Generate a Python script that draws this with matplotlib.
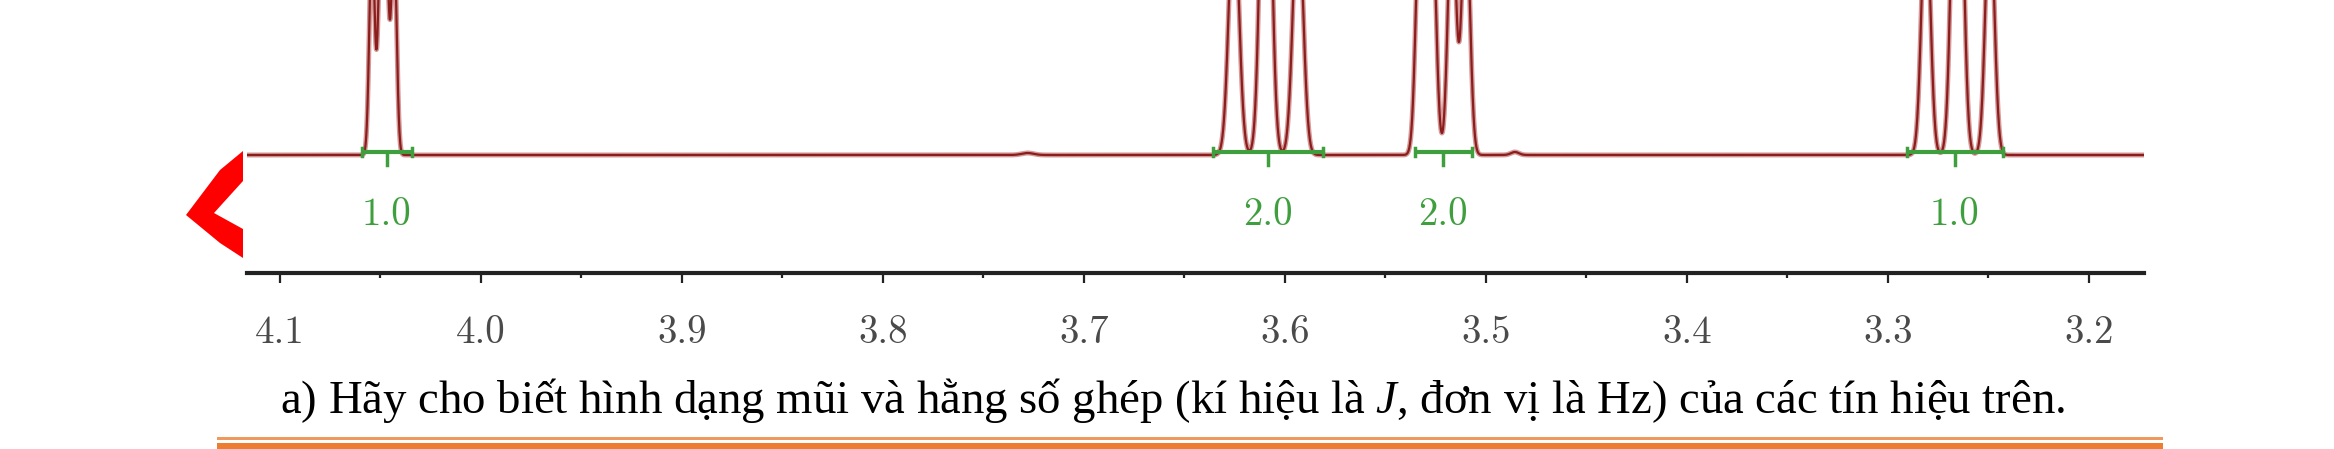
import numpy as np
import matplotlib
matplotlib.use('Agg')
import matplotlib.pyplot as plt
from matplotlib.patches import Polygon, Rectangle

# --- data ---
tick_values = [4.1, 4.0, 3.9, 3.8, 3.7, 3.6, 3.5, 3.4, 3.3, 3.2]
tick_labels = ['4.1', '4.0', '3.9', '3.8', '3.7', '3.6', '3.5', '3.4', '3.3', '3.2']
minor_values = [4.05, 3.95, 3.85, 3.75, 3.65, 3.55, 3.45, 3.35, 3.25]

# peak lines (ppm, height, gaussian sigma in ppm)
peak_ppm = [4.0542, 4.0498, 4.0473, 4.0433,
            3.6254, 3.6095, 3.5935,
            3.5328, 3.5269, 3.5169, 3.5100,
            3.2811, 3.2667, 3.2642, 3.2493,
            3.7280, 3.4856]
peak_height = [220, 220, 220, 220,
               250, 450, 250,
               250, 250, 250, 250,
               250, 250, 250, 250,
               2, 3]
peak_sigma = [0.0013, 0.0013, 0.0013, 0.0013,
              0.0025, 0.0025, 0.0025,
              0.0020, 0.0020, 0.0020, 0.0020,
              0.0022, 0.0022, 0.0022, 0.0022,
              0.0030, 0.0020]

# integrals
integral_left = [4.0592, 3.6358, 3.5353, 3.2905]
integral_right = [4.0343, 3.5811, 3.5070, 3.2428]
integral_mid = [4.0468, 3.6085, 3.5214, 3.2667]
integral_labels = ['1.0', '2.0', '2.0', '1.0']

caption = ('a) Hãy cho biết hình dạng mũi và hằng số ghép (kí hiệu là $J$, '
           'đơn vị là Hz) của các tín hiệu trên.')

W, H = 2334, 449
plt.rcParams['mathtext.fontset'] = 'custom'
plt.rcParams['mathtext.rm'] = 'Liberation Serif'
plt.rcParams['mathtext.it'] = 'Liberation Serif:italic'

fig = plt.figure(figsize=(W / 100, H / 100), dpi=100)
fig.patch.set_facecolor('white')

# spectrum axes, bottom spine at y=273 px
ax = fig.add_axes([247 / W, (H - 273) / H, (2144 - 247) / W, 273 / H])
ax.set_xlim(4.1164, 3.1726)
ax.set_ylim(-118, 155)

x = np.linspace(4.1164, 3.1726, 8000)
y = np.zeros_like(x)
for c, h, s in zip(peak_ppm, peak_height, peak_sigma):
    y += h * np.exp(-(x - c) ** 2 / (2 * s ** 2))

ax.plot(x, y, color='#d49a9a', lw=3.6, solid_capstyle='butt', zorder=2)
ax.plot(x, y, color='#8c1d1d', lw=1.6, zorder=3)

green = '#3f9f3f'
for l, r, m, lab in zip(integral_left, integral_right, integral_mid, integral_labels):
    ax.plot([l, r], [3, 3], color=green, lw=3, zorder=4, solid_capstyle='butt')
    ax.plot([l, l], [-1, 7], color=green, lw=2.5, zorder=4)
    ax.plot([r, r], [-1, 7], color=green, lw=2.5, zorder=4)
    ax.plot([m, m], [3, -10], color=green, lw=2.5, zorder=4)
    ax.text(m, -60, lab, color=green, fontsize=28, family='cmr10',
            ha='center', va='center')

for side in ['top', 'left', 'right']:
    ax.spines[side].set_visible(False)
ax.spines['bottom'].set_linewidth(3)
ax.spines['bottom'].set_color('#222222')
ax.set_yticks([])
ax.set_xticks(tick_values)
ax.set_xticklabels(tick_labels, family='cmr10', fontsize=28, color='#4a4a4a')
ax.set_xticks(minor_values, minor=True)
ax.tick_params(axis='x', which='major', direction='out', length=7.5, width=1.6,
               color='#222222', pad=23)
ax.tick_params(axis='x', which='minor', direction='out', length=3.5, width=1.6,
               color='#222222')

# red chevron on the left
def px(xp, yp):
    return (xp / W, 1 - yp / H)

chevron = [px(243, 151), px(220, 170), px(186, 215), px(220, 243), px(243, 258),
           px(243, 229), px(214, 213), px(243, 181)]
fig.add_artist(Polygon(chevron, closed=True, transform=fig.transFigure,
                       facecolor='#ff0000', edgecolor='none'))

# caption
fig.text(280 / W, 1 - 413 / H, caption, family='Liberation Serif', fontsize=33.7,
         ha='left', va='baseline', color='black')

# orange rules at the bottom
fig.add_artist(Rectangle((217 / W, 1 - 439.5 / H), (2163 - 217) / W, 2.5 / H,
                         transform=fig.transFigure, facecolor='#ef9a5c',
                         edgecolor='none'))
fig.add_artist(Rectangle((217 / W, 0), (2163 - 217) / W, 6 / H,
                         transform=fig.transFigure, facecolor='#ed7d31',
                         edgecolor='none'))

fig.savefig('out.png', dpi=100, facecolor='white')
